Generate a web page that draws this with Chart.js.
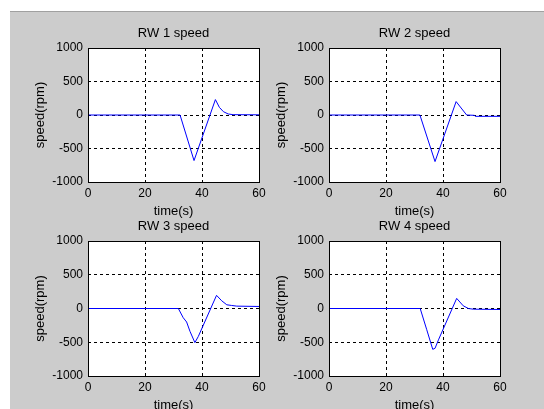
<!DOCTYPE html>
<html>
<head>
<meta charset="utf-8">
<script src="https://cdn.jsdelivr.net/npm/chart.js@4"></script>
<style>
  html, body { margin: 0; padding: 0; background: #fff; }
  body { width: 544px; height: 409px; position: relative; overflow: hidden; }
  #figure { position: absolute; left: 10px; top: 11px; right: 0; bottom: 0;
            background: #cccccc; border-top: 1px solid #a0a0a0; }
  canvas { position: absolute; }
</style>
</head>
<body>
<div id="figure"></div>

<script>
// reaction wheel speeds (rpm) against time (s)
const timeRW1  = [0, 32.3, 37.2, 44.7, 46.1, 47.5, 49.2, 50.9, 60];
const speedRW1 = [0, 0, -680, 230, 114, 50, 15, 5, 3];

const timeRW2  = [0, 31.9, 37.2, 44.6, 48.3, 51.0, 51.3, 60];
const speedRW2 = [0, 0, -695, 200, 0, -5, -20, -20];

const timeRW3  = [0, 31.7, 33.4, 34.6, 35.8, 37.5, 38.7, 45.1, 46.9, 48.7, 50.4, 52.2, 60];
const speedRW3 = [0, 0, -136, -200, -340, -505, -415, 195, 115, 55, 45, 35, 30];

const timeRW4  = [0, 32.0, 34.3, 36.4, 37.2, 38.4, 44.8, 47.1, 48.9, 50.6, 60];
const speedRW4 = [0, 0, -315, -605, -590, -465, 150, 40, 0, -10, -15];

const titles = ['RW 1 speed', 'RW 2 speed', 'RW 3 speed', 'RW 4 speed'];
const xTicks = [0, 20, 40, 60];
const yTicks = [-1000, -500, 0, 500, 1000];

const FONT = "'Liberation Sans', Arial, sans-serif";
Chart.defaults.color = '#000';
Chart.defaults.font.family = FONT;

// white axes box with a black frame
const axesBox = {
  id: 'axesBox',
  beforeDraw(chart) {
    const a = chart.chartArea, ctx = chart.ctx;
    ctx.save();
    ctx.fillStyle = '#fff';
    ctx.fillRect(a.left, a.top, a.right - a.left + 1, a.bottom - a.top + 1);
    ctx.restore();
  },
  afterDatasetsDraw(chart) {
    const a = chart.chartArea, ctx = chart.ctx;
    ctx.save();
    ctx.strokeStyle = '#000';
    ctx.lineWidth = 1;
    ctx.strokeRect(a.left + 0.5, a.top + 0.5, a.right - a.left, a.bottom - a.top);
    ctx.restore();
  }
};

function gridColor(lo, hi) {
  return ctx => (ctx.tick && (ctx.tick.value === lo || ctx.tick.value === hi)) ? 'rgba(0,0,0,0)' : '#000';
}

// one subplot; (px, py) is the top-left corner of its axes box
function subplot(px, py, pw, ph, title, times, speeds) {
  const cv = document.createElement('canvas');
  const w = 78 + pw + 13, h = 36 + ph + 37;
  cv.width = w; cv.height = h;
  cv.style.left = (px - 78) + 'px';
  cv.style.top = (py - 36) + 'px';
  document.body.appendChild(cv);

  new Chart(cv.getContext('2d'), {
    type: 'line',
    data: {
      datasets: [{
        data: times.map((t, i) => ({ x: t, y: speeds[i] })),
        borderColor: '#0000ff',
        borderWidth: 1,
        pointRadius: 0,
        tension: 0,
        fill: false
      }]
    },
    options: {
      responsive: false,
      animation: false,
      layout: { padding: { left: 22, right: 13, top: 0, bottom: 0 } },
      plugins: {
        legend: { display: false },
        tooltip: { enabled: false },
        title: {
          display: true,
          fullSize: false,
          text: title,
          color: '#000',
          font: { size: 13, weight: 'normal', lineHeight: '16px' },
          padding: { top: 13, bottom: 7 }
        }
      },
      scales: {
        x: {
          type: 'linear',
          min: xTicks[0], max: xTicks[xTicks.length - 1],
          afterBuildTicks: s => { s.ticks = xTicks.map(v => ({ value: v })); },
          afterFit: s => { s.height = 37; },
          ticks: { font: { size: 12 }, padding: 4, maxRotation: 0, callback: v => String(v) },
          grid: { color: gridColor(0, 60), drawTicks: false, lineWidth: 1 },
          border: { display: false, dash: [3, 3] },
          title: { display: true, text: 'time(s)', font: { size: 13, lineHeight: '16px' }, padding: 0 }
        },
        y: {
          min: yTicks[0], max: yTicks[yTicks.length - 1],
          afterBuildTicks: s => { s.ticks = yTicks.map(v => ({ value: v })); },
          afterFit: s => { s.width = 56; },
          ticks: { font: { size: 12 }, padding: 5, callback: v => String(v) },
          grid: { color: gridColor(-1000, 1000), drawTicks: false, lineWidth: 1 },
          border: { display: false, dash: [3, 3] },
          title: { display: true, text: 'speed(rpm)', font: { size: 13, lineHeight: '16px' }, padding: 0 }
        }
      }
    },
    plugins: [axesBox]
  });
}

subplot(88, 48, 171, 134, titles[0], timeRW1, speedRW1);
subplot(329, 48, 171, 134, titles[1], timeRW2, speedRW2);
subplot(88, 241, 171, 135, titles[2], timeRW3, speedRW3);
subplot(329, 241, 171, 135, titles[3], timeRW4, speedRW4);
</script>
</body>
</html>
